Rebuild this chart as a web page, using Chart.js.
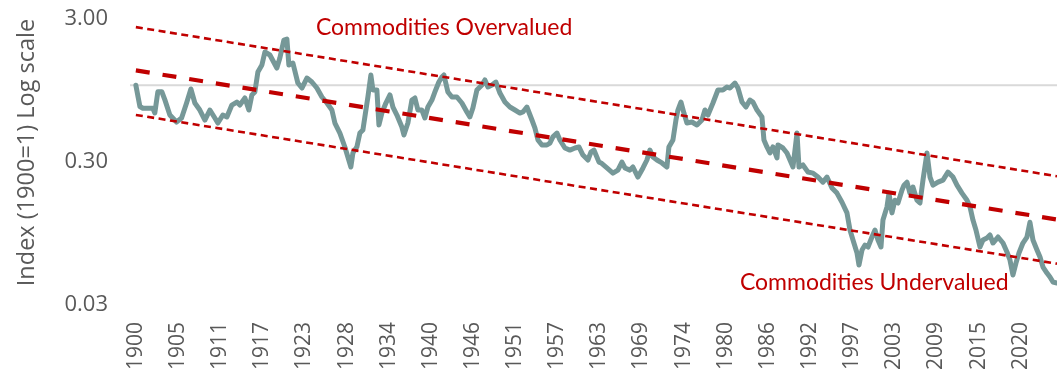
<!DOCTYPE html>
<html><head><meta charset="utf-8">
<script src="https://cdn.jsdelivr.net/npm/chart.js@4.4.1/dist/chart.umd.min.js"></script>
<style>html,body{margin:0;padding:0;background:#fff;overflow:hidden}#wrap{width:1061px;height:378px}</style>
</head><body><div id="wrap"><canvas id="c" width="1061" height="378"></canvas></div>
<script>
// Decimal year of each reading (monthly series)
const years = [1900.00,1900.55,1900.96,1901.64,1902.32,1902.59,1903.00,1903.55,1903.96,1904.64,1905.55,1906.24,1906.92,1907.51,1908.05,1908.73,1909.42,1910.10,1910.78,1911.19,1911.87,1912.42,1913.10,1913.78,1914.19,1914.88,1915.42,1915.83,1916.24,1916.65,1917.20,1917.61,1918.29,1919.24,1919.65,1920.20,1920.61,1920.88,1921.43,1922.11,1922.66,1923.34,1924.02,1924.70,1925.39,1926.07,1926.75,1927.16,1927.84,1928.52,1928.93,1929.34,1929.62,1930.16,1930.57,1930.98,1931.39,1931.66,1932.07,1932.35,1932.89,1933.17,1933.57,1934.12,1934.67,1935.08,1935.62,1936.30,1936.58,1937.12,1937.67,1938.08,1938.49,1939.03,1939.44,1939.85,1940.40,1940.81,1941.35,1941.76,1942.04,1942.58,1943.13,1943.81,1944.49,1945.17,1945.58,1945.99,1946.54,1947.22,1947.63,1948.04,1948.59,1949.13,1949.68,1950.36,1951.04,1951.73,1952.41,1952.82,1953.36,1954.05,1954.46,1954.87,1955.41,1956.09,1956.50,1956.91,1957.46,1957.87,1958.55,1959.23,1959.92,1960.46,1961.01,1961.69,1962.10,1962.51,1963.20,1963.48,1964.28,1965.10,1965.78,1966.33,1966.74,1967.42,1967.83,1968.51,1969.20,1969.74,1970.15,1970.56,1971.11,1971.79,1972.47,1972.74,1973.29,1973.70,1973.97,1974.38,1974.79,1975.20,1975.88,1976.57,1977.25,1977.66,1978.07,1978.75,1979.43,1980.11,1980.66,1981.07,1981.75,1982.16,1982.71,1983.25,1983.80,1984.21,1984.76,1985.44,1985.71,1986.12,1986.53,1986.94,1987.49,1987.62,1988.30,1988.85,1989.26,1989.67,1990.22,1990.49,1991.03,1991.72,1992.40,1993.08,1993.76,1994.31,1994.99,1995.67,1996.36,1997.04,1997.45,1997.86,1998.41,1998.68,1999.09,1999.50,1999.91,2000.45,2000.86,2001.27,2001.68,2001.95,2002.50,2002.77,2003.18,2003.59,2004.00,2004.55,2004.82,2005.23,2005.63,2006.04,2006.59,2007.00,2007.41,2007.96,2008.37,2008.78,2009.46,2010.14,2010.82,2011.51,2012.05,2012.73,2013.42,2013.83,2014.23,2014.64,2015.19,2015.60,2016.14,2016.55,2016.96,2017.65,2018.33,2018.87,2019.28,2019.69,2020.10,2020.51,2021.05,2021.60,2022.01,2022.42,2022.97,2023.38,2023.79,2024.33,2024.74,2025.15,2025.70];
// Index value (1900 = 1)
const indexValues = [1.00,0.71,0.69,0.69,0.69,0.64,0.90,0.90,0.79,0.62,0.553,0.59,0.751,0.941,0.751,0.671,0.571,0.671,0.59,0.544,0.619,0.60,0.727,0.763,0.727,0.814,0.671,0.855,0.897,1.237,1.385,1.708,1.627,1.319,1.55,2.07,2.105,1.385,1.43,1.036,0.956,1.123,1.053,0.956,0.827,0.751,0.671,0.544,0.463,0.37,0.315,0.268,0.336,0.37,0.463,0.486,0.671,0.827,1.179,0.926,0.926,0.527,0.639,0.751,0.855,0.704,0.619,0.51,0.449,0.544,0.788,0.814,0.671,0.671,0.59,0.704,0.788,0.897,1.053,1.142,1.179,0.897,0.827,0.827,0.751,0.65,0.60,0.693,0.926,1.004,1.088,0.972,1.004,1.053,0.882,0.763,0.704,0.671,0.639,0.65,0.704,0.571,0.502,0.414,0.382,0.382,0.394,0.435,0.463,0.414,0.364,0.352,0.364,0.37,0.325,0.30,0.341,0.352,0.29,0.286,0.264,0.243,0.255,0.29,0.264,0.255,0.268,0.228,0.264,0.30,0.352,0.315,0.30,0.286,0.268,0.37,0.414,0.571,0.671,0.763,0.639,0.544,0.553,0.527,0.571,0.671,0.619,0.751,0.926,0.926,0.972,0.956,1.036,0.956,0.763,0.704,0.788,0.763,0.671,0.60,0.414,0.37,0.336,0.37,0.31,0.382,0.364,0.336,0.30,0.268,0.463,0.268,0.277,0.247,0.243,0.228,0.21,0.228,0.191,0.176,0.152,0.128,0.0972,0.0827,0.0671,0.0553,0.0705,0.0763,0.0739,0.0868,0.0972,0.0827,0.0739,0.114,0.141,0.176,0.128,0.157,0.15,0.185,0.20,0.21,0.176,0.194,0.157,0.15,0.217,0.336,0.228,0.20,0.21,0.217,0.247,0.228,0.20,0.176,0.157,0.141,0.114,0.0972,0.0739,0.0827,0.0855,0.0897,0.0788,0.0868,0.0788,0.0682,0.06,0.0471,0.0571,0.0671,0.0788,0.0868,0.11,0.0827,0.0705,0.0629,0.0535,0.0486,0.0456,0.0421,0.0414];
// Trend channel (start / end of series)
const trendYears = [1900, 2025.70];
const trendMid = [1.27, 0.115];
const trendUpper = [2.55, 0.231];
const trendLower = [0.62, 0.0565];
const axisLineYears = [1899.2, 2025.70];
const axisLineValues = [1, 1];
// Axis ticks
const yTickValues = [0.03, 0.3, 3];
const yTickLabels = ['0.03', '0.30', '3.00'];
const xTickStart = 1900, xTickStepYears = 5.75, xTickCount = 22;
const xTickValues = Array.from({length: xTickCount}, (_, k) => xTickStart + k * xTickStepYears);
const yTitle = 'Index (1900=1) Log scale';
const labelOver = 'Commodities Overvalued', labelUnder = 'Commodities Undervalued';
const labelOverPos = {x: 1924.57, y: 2.53}, labelUnderPos = {x: 1982.43, y: 0.0414};

const RED = '#C00000';
const pts = (xs, ys) => xs.map((x, i) => ({x, y: ys[i]}));

const annot = {
  id: 'annot',
  afterDatasetsDraw(chart) {
    const {ctx, scales: {x, y}} = chart;
    ctx.save();
    ctx.fillStyle = RED;
    ctx.font = '23px Lato';
    ctx.textBaseline = 'middle';
    ctx.textAlign = 'left';
    ctx.fillText(labelOver, x.getPixelForValue(labelOverPos.x), y.getPixelForValue(labelOverPos.y));
    ctx.fillText(labelUnder, x.getPixelForValue(labelUnderPos.x), y.getPixelForValue(labelUnderPos.y));
    ctx.restore();
  },
  afterDraw(chart) {
    const {ctx, chartArea} = chart;
    ctx.save();
    ctx.fillStyle = '#595959';
    ctx.font = "23.5px 'Open Sans'";
    ctx.textAlign = 'center';
    ctx.textBaseline = 'middle';
    ctx.translate(27, (chartArea.top + chartArea.bottom) / 2 - 7.5);
    ctx.rotate(-Math.PI / 2);
    ctx.fillText(yTitle, 0, 0);
    ctx.restore();
  }
};

Chart.defaults.font.family = "'Open Sans', sans-serif";
Chart.defaults.color = '#595959';

new Chart(document.getElementById('c'), {
  type: 'line',
  data: {
    datasets: [
      {data: pts(trendYears, trendUpper), borderColor: RED, borderWidth: 2.6, borderDash: [7, 4.5], pointRadius: 0},
      {data: pts(trendYears, trendMid), borderColor: RED, borderWidth: 4.2, borderDash: [14, 13], pointRadius: 0},
      {data: pts(trendYears, trendLower), borderColor: RED, borderWidth: 2.6, borderDash: [7, 4.5], pointRadius: 0},
      {data: pts(years, indexValues), borderColor: '#769898', borderWidth: 5, pointRadius: 0, tension: 0, borderJoinStyle: 'round', borderCapStyle: 'round'},
      {data: pts(axisLineYears, axisLineValues), borderColor: '#D9D9D9', borderWidth: 2, pointRadius: 0}
    ]
  },
  options: {
    responsive: false,
    animation: false,
    devicePixelRatio: 1,
    layout: {padding: {left: 0, right: 4, top: 17, bottom: 0}},
    plugins: {legend: {display: false}, tooltip: {enabled: false}},
    scales: {
      x: {
        type: 'linear', min: 1899.2, max: 2025.70,
        afterBuildTicks: s => { s.ticks = xTickValues.map(v => ({value: v})); },
        afterFit: s => { s.height = 75; s.paddingLeft = 0; s.paddingRight = 0; },
        ticks: {autoSkip: false, maxRotation: 90, minRotation: 90, padding: 19, font: {size: 21},
          callback: v => String(Math.floor(v + 1e-6))},
        grid: {display: false, drawTicks: false},
        border: {display: false}
      },
      y: {
        type: 'logarithmic', min: 0.03, max: 3,
        afterBuildTicks: s => { s.ticks = yTickValues.map(v => ({value: v})); },
        afterFit: s => { s.width = 130; s.paddingTop = 0; s.paddingBottom = 0; },
        ticks: {padding: 22, font: {size: 22}, labelOffset: 2,
          callback: v => { const i = yTickValues.findIndex(t => Math.abs(t - v) < 1e-9); return i >= 0 ? yTickLabels[i] : ''; }},
        grid: {display: false, drawTicks: false},
        border: {display: false},
        title: {display: false}
      }
    }
  },
  plugins: [annot]
});
</script></body></html>
